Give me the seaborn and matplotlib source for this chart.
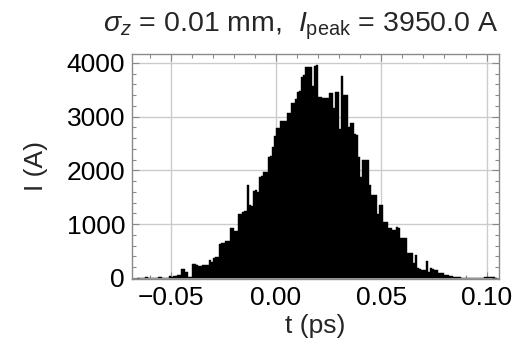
"""Histograma de corriente del haz: I (A) vs t (ps)."""

import numpy as np
import pandas as pd
import matplotlib
matplotlib.use("Agg")
import matplotlib.pyplot as plt
from matplotlib.ticker import MultipleLocator, FuncFormatter
import seaborn as sns

# bordes de los bins (0.001 ps) y corriente por bin
bin_start = -0.066
bin_width = 0.001
current = [
    0, 0, 0, 0, 15,
    0, 0, 0, 0, 0,
    10, 15, 0, 0, 0,
    30, 10, 45, 45, 50,
    60, 160, 175, 110, 25,
    20, 255, 265, 250, 225,
    230, 240, 245, 240, 335,
    300, 380, 385, 390, 640,
    645, 650, 690, 695, 935,
    930, 870, 880, 1185, 1190,
    1235, 1245, 1725, 1350, 1340,
    1620, 1630, 1605, 1880, 1890,
    1965, 1975, 2250, 2260, 2440,
    2640, 2780, 2790, 2920, 2915,
    2910, 3060, 3065, 3250, 3255,
    3325, 3465, 3470, 3745, 3780,
    3930, 3925, 3930, 3560, 3950,
    3955, 3370, 3360, 3355, 3350,
    3345, 3435, 3430, 3155, 3465,
    3460, 2765, 3755, 3405, 3400,
    2800, 2890, 2885, 2670, 2665,
    2255, 1870, 2190, 2200, 2190,
    1730, 1545, 1550, 1540, 1190,
    1360, 1355, 1045, 1040, 925,
    925, 895, 890, 940, 935,
    740, 740, 735, 470, 470,
    465, 285, 430, 180, 175,
    150, 150, 320, 120, 180,
    175, 140, 140, 100, 100,
    100, 55, 55, 40, 40,
    20, 20, 20, 10, 5,
    5, 0, 5, 0, 0,
    0, 0, 0, 0, 0,
    15, 20, 20, 20, 15,
    0,
]

x_ticks = [-0.05, 0.00, 0.05, 0.10]
y_ticks = [0, 1000, 2000, 3000, 4000]
title = r"$\sigma_z$ = 0.01 mm,  $I_{\rm peak}$ = 3950.0 A"

edges = bin_start + bin_width * np.arange(len(current) + 1)
df = pd.DataFrame({"t": (edges[:-1] + edges[1:]) / 2, "I": current})

sns.set_style("ticks")
plt.rcParams["font.family"] = ["Liberation Sans", "DejaVu Sans"]
plt.rcParams["mathtext.fontset"] = "custom"
plt.rcParams["mathtext.rm"] = "Liberation Sans"
plt.rcParams["mathtext.it"] = "Liberation Sans:italic"

FS = 19

fig = plt.figure(figsize=(5.2, 3.55), dpi=100)
ax = fig.add_axes([0.2538, 0.2141, 0.7058, 0.6338])

sns.histplot(data=df, x="t", weights="I", binwidth=bin_width,
             binrange=(edges[0], edges[-1]), color="black",
             edgecolor="black", linewidth=0.3, alpha=1, ax=ax, zorder=3)

ax.set_xlim(-0.0684, 0.1059)
ax.set_ylim(-19, 4164)
ax.set_xticks(x_ticks)
ax.set_yticks(y_ticks)
ax.xaxis.set_minor_locator(MultipleLocator(0.01))
ax.yaxis.set_minor_locator(MultipleLocator(200))
ax.xaxis.set_major_formatter(FuncFormatter(lambda v, p: f"{v:.2f}".replace("-", "\u2212")))
ax.tick_params(which="both", direction="in", top=True, right=True,
               colors="#8a8a8a", labelcolor="black", labelsize=FS, width=0.8)
ax.tick_params(which="major", length=5, pad=5)
ax.tick_params(which="minor", length=3)
ax.grid(True, which="major", color="#cccccc", linewidth=1, zorder=0)
for s in ax.spines.values():
    s.set_color("#8a8a8a")
    s.set_linewidth(1)

ax.set_xlabel("t (ps)", fontsize=FS, labelpad=3)
ax.set_ylabel("I (A)", fontsize=FS, labelpad=13)
ax.set_title(title, fontsize=20.5, pad=16, x=0.46)

fig.savefig("out.png", dpi=100)
